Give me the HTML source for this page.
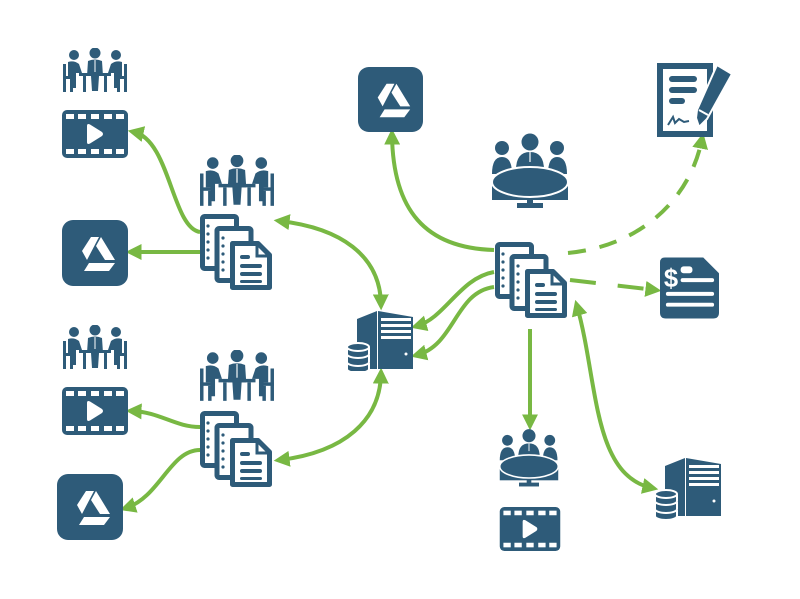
<!DOCTYPE html>
<html><head><meta charset="utf-8"><style>
html,body{margin:0;padding:0;background:#fff;width:800px;height:599px;overflow:hidden}
svg{display:block}
</style></head><body>
<svg width="800" height="599" viewBox="0 0 800 599" xmlns="http://www.w3.org/2000/svg">
<defs>
<marker id="ah" viewBox="0 0 10 10" refX="6" refY="5" markerWidth="4" markerHeight="4" orient="auto-start-reverse" markerUnits="strokeWidth">
<path d="M0,0 L10,5 L0,10 z" fill="#78b843"/></marker>

<symbol id="docs" viewBox="0 0 72 76">
<rect x="2.5" y="2.5" width="34" height="52" rx="2" fill="#fff" stroke="#2e5b79" stroke-width="5"/>
<g fill="#2e5b79"><circle cx="8" cy="12" r="1.6"/><circle cx="8" cy="20" r="1.6"/><circle cx="8" cy="28" r="1.6"/><circle cx="8" cy="36" r="1.6"/><circle cx="8" cy="44" r="1.6"/></g>
<rect x="17" y="14.5" width="34" height="52" rx="2" fill="#fff" stroke="#2e5b79" stroke-width="5"/>
<g fill="#2e5b79"><circle cx="23" cy="24" r="1.6"/><circle cx="23" cy="32" r="1.6"/><circle cx="23" cy="40" r="1.6"/><circle cx="23" cy="48" r="1.6"/><circle cx="23" cy="56" r="1.6"/></g>
<path d="M32.5,29.5 H58 L69.5,41 V73.5 H32.5 Z" fill="#fff" stroke="#2e5b79" stroke-width="5" stroke-linejoin="round"/>
<path d="M57,30 V42 H69" fill="none" stroke="#2e5b79" stroke-width="3"/>
<g fill="#2e5b79"><rect x="40" y="41" width="10" height="4" rx="2"/><rect x="40" y="50" width="22" height="4" rx="2"/><rect x="40" y="58" width="22" height="4" rx="2"/><rect x="40" y="66" width="22" height="3" rx="1.5"/></g>
</symbol>

<symbol id="drive" viewBox="0 0 66 66">
<rect width="66" height="66" rx="11" fill="#2e5b79"/>
<g fill="#fff">
<polygon points="29,17 37,17 25,40 20,31"/>
<polygon points="39,17 53,40 43,40 34,26"/>
<polygon points="27,43 53,43 47,51 22,51"/>
</g>
</symbol>

<symbol id="video" viewBox="0 0 66 48">
<rect width="66" height="48" rx="5" fill="#2e5b79"/>
<g fill="#fff">
<rect x="4" y="4" width="8" height="5"/><rect x="16" y="4" width="8" height="5"/><rect x="29" y="4" width="8" height="5"/><rect x="42" y="4" width="8" height="5"/><rect x="54" y="4" width="8" height="5"/>
<rect x="4" y="39" width="8" height="5"/><rect x="16" y="39" width="8" height="5"/><rect x="29" y="39" width="8" height="5"/><rect x="42" y="39" width="8" height="5"/><rect x="54" y="39" width="8" height="5"/>
<path d="M25,16 Q25,13 28,14.5 L40,22 Q42,24 40,26 L28,33.5 Q25,35 25,32 Z"/>
</g>
</symbol>

<symbol id="meet" viewBox="0 0 66 45">
<g fill="#2e5b79">
<circle cx="12" cy="7" r="5"/><circle cx="33" cy="5" r="5.5"/><circle cx="54" cy="7" r="5"/>
<path d="M6,14 Q12,12 17,16 L20,25 L14,25 L14,40 L10,40 L10,28 L6,28 Z"/>
<path d="M60,14 Q54,12 49,16 L46,25 L52,25 L52,40 L56,40 L56,28 L60,28 Z"/>
<path d="M26,13 Q33,10 40,13 L41,28 L37,28 L36,43 L30,43 L29,28 L25,28 Z"/>
<rect x="1" y="16" width="3" height="28"/><rect x="62" y="16" width="3" height="28"/>
<rect x="1" y="28" width="10" height="3"/><rect x="55" y="28" width="10" height="3"/>
<rect x="8" y="31" width="3" height="13"/><rect x="55" y="31" width="3" height="13"/>
<rect x="17" y="25" width="32" height="3"/>
<rect x="21" y="28" width="3" height="16"/><rect x="42" y="28" width="3" height="16"/>
</g>
<path d="M33,12 L33,24" stroke="#fff" stroke-width="1"/>
</symbol>

<symbol id="round" viewBox="0 0 80 78">
<g fill="#2e5b79">
<circle cx="12" cy="16" r="7"/><circle cx="40" cy="10" r="8.5"/><circle cx="67" cy="16" r="7"/>
<path d="M2,42 Q2,25 12,25 Q22,25 22,42 Z"/>
<path d="M58,42 Q58,25 67,25 Q77,25 77,42 Z"/>
<path d="M26,38 Q26,20 40,20 Q54,20 54,38 Z"/>
<rect x="2" y="50" width="76" height="18"/>
<rect x="37" y="66" width="6" height="6"/>
<rect x="27" y="71" width="26" height="5"/>
</g>
<ellipse cx="40" cy="50" rx="38" ry="15" fill="#2e5b79" stroke="#fff" stroke-width="2"/>
<path d="M40,20 L40,30" stroke="#fff" stroke-width="1.2"/>
</symbol>

<symbol id="server" viewBox="0 0 66 62">
<g fill="#2e5b79">
<polygon points="10,10 30,2 30,60 10,60"/>
<polygon points="31,2 66,8 66,60 31,60"/>
</g>
<g fill="#fff"><rect x="34" y="9" width="30" height="3"/><rect x="34" y="15" width="30" height="3"/><rect x="34" y="21" width="30" height="3"/><rect x="34" y="27" width="30" height="3"/><circle cx="59" cy="45" r="1.5"/></g>
<g fill="#2e5b79" stroke="#fff" stroke-width="2">
<path d="M0,54 v6 a11,4 0 0 0 22,0 v-6"/>
<path d="M0,46 v7 a11,4 0 0 0 22,0 v-7"/>
<path d="M0,38 v7 a11,4 0 0 0 22,0 v-7"/>
<ellipse cx="11" cy="38" rx="11" ry="4"/>
</g>
</symbol>

<symbol id="contract" viewBox="0 0 76 76">
<rect x="1" y="1" width="56" height="74" fill="#2e5b79"/>
<rect x="7" y="7" width="44" height="62" fill="#fff"/>
<g fill="#2e5b79"><rect x="13" y="14" width="28" height="6" rx="3"/><rect x="13" y="25" width="28" height="6" rx="3"/><rect x="13" y="36" width="16" height="6" rx="3"/></g>
<path d="M12,63 L17,55 L19,61 L23,57 L28,60 L33,59" fill="none" stroke="#2e5b79" stroke-width="2"/>
<path d="M61,3 L76,12 L51,57 L43,65 L40,56 L41,48 Z" fill="#2e5b79" stroke="#fff" stroke-width="2"/>
<path d="M43,48 L52,53" stroke="#fff" stroke-width="2"/>
</symbol>

<symbol id="invoice" viewBox="0 0 60 62">
<path d="M5,0 H44 L60,16 V56 Q60,62 54,62 H6 Q0,62 0,56 V5 Q0,0 5,0 Z" fill="#2e5b79"/>
<text x="4" y="30" font-family="Liberation Sans, sans-serif" font-weight="bold" font-size="26" fill="#fff">$</text>
<g fill="#fff"><rect x="21" y="9" width="12" height="7" rx="3"/><rect x="21" y="21" width="34" height="4" rx="2"/><rect x="6" y="35" width="49" height="4" rx="2"/><rect x="6" y="46" width="49" height="4" rx="2"/></g>
</symbol>
</defs>

<g fill="none" stroke="#78b843" stroke-width="4" stroke-linecap="butt">
<path d="M200,232 C172,228 170,140 134,132" marker-end="url(#ah)"/>
<path d="M200,252 L132,252" marker-end="url(#ah)"/>
<path d="M280,221 C340,228 380,255 381,304" marker-start="url(#ah)" marker-end="url(#ah)"/>
<path d="M280,460 C345,452 380,420 381,374" marker-start="url(#ah)" marker-end="url(#ah)"/>
<path d="M200,427 C175,427 160,412 132,411" marker-end="url(#ah)"/>
<path d="M200,450 C170,450 160,497 126,508" marker-end="url(#ah)"/>
<path d="M494,250 C425,248 393,210 392,135" marker-end="url(#ah)"/>
<path d="M494,272 C460,278 445,318 417,326" marker-end="url(#ah)"/>
<path d="M494,287 C455,292 455,345 417,355" marker-end="url(#ah)"/>
<path d="M568,253 C640,246 690,200 702,139" stroke-dasharray="18,14" marker-end="url(#ah)"/>
<path d="M570,280 L655,290" stroke-dasharray="26,22" marker-end="url(#ah)"/>
<path d="M530,329 L530,424" marker-end="url(#ah)"/>
<path d="M577,306 C598,380 592,475 652,488" marker-start="url(#ah)" marker-end="url(#ah)"/>
</g>

<use href="#meet" x="62" y="48" width="66" height="45"/>
<use href="#video" x="62" y="110" width="66" height="48"/>
<use href="#drive" x="62" y="220" width="66" height="66"/>
<use href="#meet" x="198" y="155" width="78" height="52"/>
<use href="#docs" x="200" y="214" width="72" height="76"/>
<use href="#meet" x="62" y="325" width="66" height="45"/>
<use href="#video" x="62" y="387" width="66" height="48"/>
<use href="#drive" x="57" y="474" width="66" height="66"/>
<use href="#meet" x="198" y="350" width="78" height="52"/>
<use href="#docs" x="200" y="410" width="72" height="78"/>
<use href="#server" x="347" y="309" width="66" height="62"/>
<use href="#drive" x="358" y="67" width="65" height="65"/>
<use href="#round" x="490" y="132" width="80" height="78"/>
<use href="#contract" x="656" y="62" width="76" height="76"/>
<use href="#docs" x="495" y="241" width="72" height="78"/>
<use href="#invoice" x="660" y="257" width="59" height="62"/>
<use href="#round" x="498" y="428" width="62" height="60"/>
<use href="#video" x="499" y="507" width="62" height="44"/>
<use href="#server" x="655" y="455" width="66" height="64"/>
</svg>
</body></html>
